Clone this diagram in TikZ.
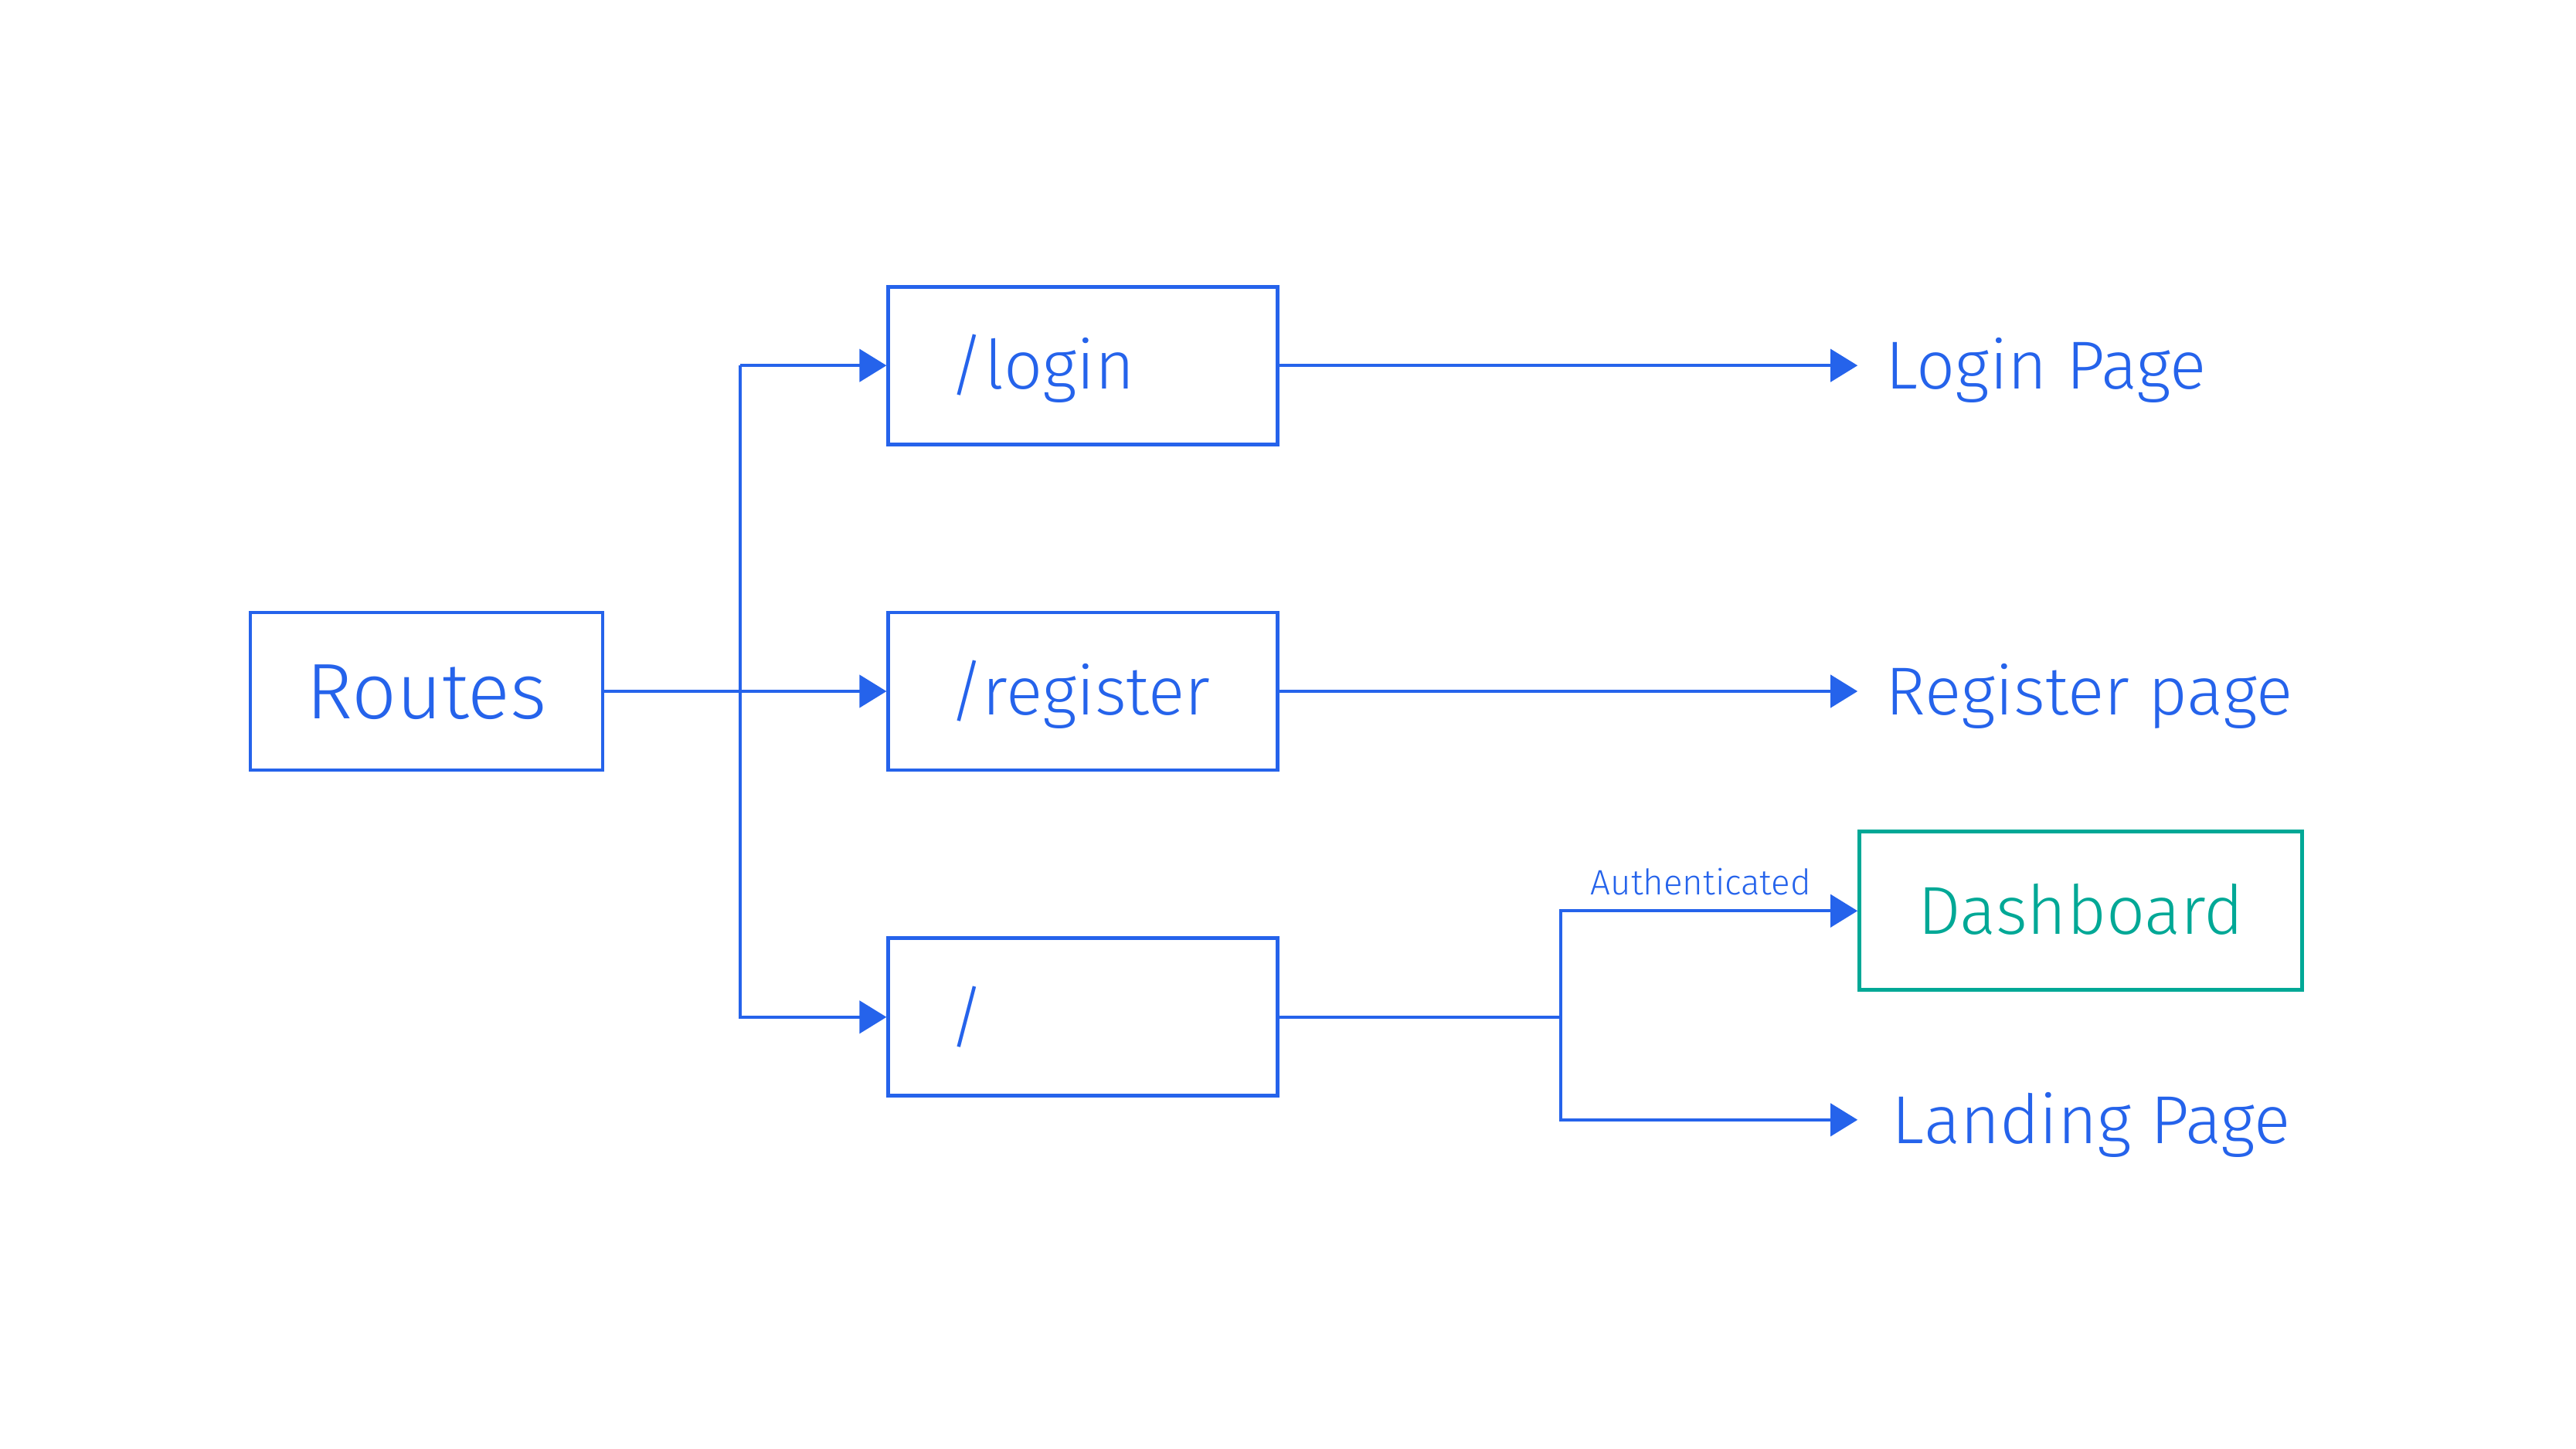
\documentclass[tikz,border=0pt]{standalone}
\usepackage{fontspec}
\setmainfont{Fira Sans Light}
\usetikzlibrary{positioning, calc, arrows.meta}
\definecolor{routeblue}{RGB}{37,99,235}
\definecolor{dashteal}{RGB}{0,168,150}

\begin{document}
\begin{tikzpicture}[
	big/.style={font=\fontsize{25}{30}\selectfont, text height=0.61cm, text depth=0pt},
	box/.style={big, draw=routeblue, text=routeblue, line width=0.048cm, minimum width=5.04cm, minimum height=2.04cm, text width=3.46cm, align=left, inner xsep=0.79cm},
	rootbox/.style={draw=routeblue, text=routeblue, line width=0.048cm, minimum width=4.56cm, minimum height=2.04cm, font=\fontsize{29}{35}\selectfont, text height=0.70cm, text depth=0pt},
	dashbox/.style={big, draw=dashteal, text=dashteal, line width=0.048cm, minimum width=5.73cm, minimum height=2.05cm},
	page/.style={big, text=routeblue, inner xsep=0.36cm, inner ysep=0pt},
	lbl/.style={text=routeblue, font=\fontsize{13}{16}\selectfont, inner sep=0pt, text height=0.315cm, text depth=0pt},
	line/.style={draw=routeblue, line width=0.042cm},
	arr/.style={line, -{Triangle[length=0.35cm, width=0.42cm]}}]
	\useasboundingbox (0,0) rectangle (33.34,18.75);
	\node[rootbox] (root) at (5.52,9.80) {Routes};
	\node[box] (reg) [right=3.65cm of root] {/register};
	\node[box] (login) [above=2.13cm of reg] {/login};
	\node[box] (home) [below=2.13cm of reg] {/};
	\node[page] (loginpg) [right=7.48cm of login] {Login Page};
	\node[page] (regpg) [right=7.48cm of reg] {Register page};
	\node[dashbox] (dash) [right=7.48cm of home, yshift=1.375cm] {Dashboard};
	\node[page, inner xsep=0.44cm] (landing) [right=7.48cm of home, yshift=-1.33cm] {Landing Page};
	% branches from routes
	\coordinate (trunk) at ($(root.east)!0.48!(reg.west)$);
	\draw[arr] (root) -- (reg);
	\draw[arr] (trunk |- login) -- (login);
	\draw[arr] (trunk |- login) |- (home);
	\draw[arr] (login) -- (loginpg);
	\draw[arr] (reg) -- (regpg);
	% home route splits
	\coordinate (split) at ($(home.east)+(3.64,0)$);
	\draw[line] (home) -- (split);
	\draw[arr] (split) |- node[lbl, pos=0.736, above=0.19cm] (auth) {Authenticated} (dash);
	\draw[arr] (split) |- (landing);
\end{tikzpicture}
\end{document}
